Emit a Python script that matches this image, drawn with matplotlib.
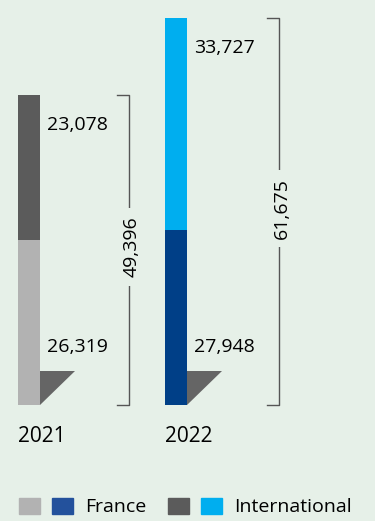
import matplotlib.pyplot as plt
from matplotlib.patches import Patch, Polygon
from matplotlib.legend_handler import HandlerTuple

years = ['2021', '2022']
france = [26319, 27948]
international = [23078, 33727]
totals = [49396, 61675]

col_france = ['#b2b2b2', '#003f87']
col_inter = ['#5b5b5b', '#00aeef']
legend_france = ['#b2b2b2', '#23519c']
legend_inter = ['#5b5b5b', '#00aeef']
bg = '#e6f0e8'

plt.rcParams['font.family'] = ['Open Sans', 'DejaVu Sans']

fig = plt.figure(figsize=(3.75, 5.21), dpi=100, facecolor=bg)
ax = fig.add_axes([0, 0, 1, 1])
ax.set_facecolor(bg)
ax.axis('off')

# x in pixel-like units, y in data values (1 px ~ 159.3 units)
upp = 49396 / 310.0
ax.set_xlim(0, 375)
ax.set_ylim(-116 * upp, 405 * upp)

xs = [29, 176]
w = 22
brx = [129, 279]
fs = 14

for i in range(2):
    ax.bar(xs[i], france[i], width=w, color=col_france[i])
    ax.bar(xs[i], international[i], width=w, bottom=france[i], color=col_inter[i])
    # small triangle at the bottom right of each bar
    xr = xs[i] + w / 2
    tri = Polygon([[xr, 34 * upp], [xr + 35, 34 * upp], [xr, 0]],
                  closed=True, color='#656565', lw=0)
    ax.add_patch(tri)
    # value labels
    ax.text(xr + 7, 58 * upp, f'{france[i]:,}', fontsize=fs, va='center', ha='left')
    ax.text(xr + 7, totals[i] - 30 * upp, f'{international[i]:,}', fontsize=fs,
            va='center', ha='left')
    # bracket
    bx = brx[i]
    ax.plot([bx - 12, bx, bx, bx - 12], [totals[i], totals[i], 0, 0],
            color='#555555', lw=1)
    ax.text(bx + 3, totals[i] / 2 + 3 * upp, f'{totals[i]:,}', rotation=90, fontsize=fs,
            ha='center', va='center',
            bbox=dict(facecolor=bg, edgecolor='none', pad=6))
    # year
    ax.text(xs[i] - w / 2, -31 * upp, years[i], fontsize=15, ha='left', va='center')

h_fr = (Patch(color=legend_france[0]), Patch(color=legend_france[1]))
h_in = (Patch(color=legend_inter[0]), Patch(color=legend_inter[1]))
fig.legend([h_fr, h_in], ['France', 'International'],
           handler_map={tuple: HandlerTuple(ndivide=None, pad=0.62)},
           loc='center left', bbox_to_anchor=(19 / 375, 1 - 507 / 521), ncol=2,
           frameon=False, fontsize=fs, handlelength=2.78, handleheight=0.9,
           columnspacing=1.1, handletextpad=0.62, borderpad=0, borderaxespad=0)

fig.savefig('out.png', dpi=100, facecolor=bg)
